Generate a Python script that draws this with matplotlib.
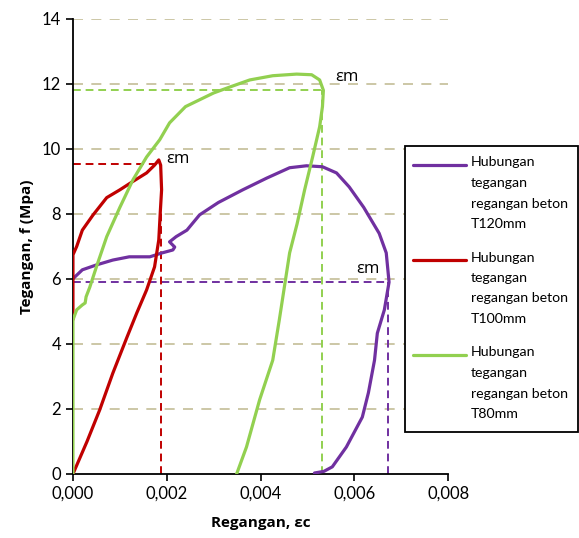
import matplotlib.pyplot as plt
from matplotlib.lines import Line2D
from matplotlib.patches import Rectangle
from matplotlib.ticker import FuncFormatter

plt.rcParams['font.family'] = ['Open Sans', 'DejaVu Sans']

# T120mm (purple)
x120 = [0, 0.00004, 0.0002, 0.0005, 0.00085, 0.0012, 0.00164, 0.0019, 0.00213, 0.00217,
        0.00206, 0.0022, 0.00243, 0.0027, 0.0031, 0.00362, 0.00413, 0.00462, 0.00498,
        0.00532, 0.00562, 0.00589, 0.0062, 0.00653, 0.00668, 0.00674, 0.00664, 0.00649,
        0.00643, 0.0063, 0.00617, 0.00583, 0.00553, 0.00535, 0.00515]
y120 = [6.0, 6.06, 6.28, 6.43, 6.58, 6.68, 6.68, 6.8, 6.89, 6.98,
        7.14, 7.3, 7.5, 7.97, 8.35, 8.74, 9.1, 9.42, 9.48,
        9.45, 9.26, 8.83, 8.2, 7.4, 6.8, 5.9, 5.05, 4.33,
        3.5, 2.5, 1.75, 0.83, 0.22, 0.08, 0.03]

# T100mm (red)
x100 = [0, 0, 0.00008, 0.0002, 0.00043, 0.00072, 0.001, 0.00128, 0.00157, 0.00174,
        0.00183, 0.00187, 0.00189, 0.00186, 0.00183, 0.00174, 0.00157, 0.00136, 0.00115,
        0.00085, 0.00057, 0.0003, 0]
y100 = [4.75, 6.74, 7.0, 7.5, 7.97, 8.5, 8.74, 9.0, 9.26, 9.5,
        9.66, 9.5, 8.74, 8.0, 7.2, 6.37, 5.66, 4.95, 4.2,
        3.1, 1.97, 1.0, 0]

# T80mm (green)
x80 = [0, 0, 0.00008, 0.0002, 0.00026, 0.00028, 0.00036, 0.0005, 0.00072, 0.001,
       0.00128, 0.00157, 0.00185, 0.00206, 0.0024, 0.003, 0.00334, 0.00377, 0.00426,
       0.00477, 0.00509, 0.00526, 0.00534, 0.00532, 0.00526, 0.00511, 0.00494, 0.00478,
       0.00462, 0.0044, 0.00426, 0.00398, 0.0037, 0.00349]
y80 = [0, 4.74, 5.05, 5.2, 5.26, 5.45, 5.75, 6.37, 7.3, 8.2,
       9.05, 9.75, 10.28, 10.8, 11.3, 11.72, 11.9, 12.12, 12.25,
       12.3, 12.28, 12.12, 11.8, 11.3, 10.68, 9.75, 8.74, 7.7,
       6.8, 4.74, 3.5, 2.28, 0.83, 0]

# strain at max (εm) markers: (strain, stress)
em_strain = [0.00672, 0.00188, 0.00532]
em_stress = [5.9, 9.55, 11.8]

labels = ["Hubungan\ntegangan\nregangan beton\nT120mm",
          "Hubungan\ntegangan\nregangan beton\nT100mm",
          "Hubungan\ntegangan\nregangan beton\nT80mm"]
colors = ["#7030A0", "#C00000", "#92D050"]

W, H = 579, 538
fig = plt.figure(figsize=(W / 100, H / 100), dpi=100)
ax = fig.add_axes([0.126, 0.119, 0.648, 0.846])

for yv in range(2, 15, 2):
    ax.plot([0, 0.008], [yv, yv], color="#C4BD97", lw=1.2, dashes=(6, 5), zorder=1)

for xs, ys, c, lab in zip([x120, x100, x80], [y120, y100, y80], colors, labels):
    ax.plot(xs, ys, color=c, lw=2.3, label=lab, solid_joinstyle='round',
            solid_capstyle='round', zorder=3)

for sx, sy, c in zip(em_strain, em_stress, colors):
    ax.plot([0, sx], [sy, sy], color=c, lw=1.4, dashes=(4, 2.5), zorder=2)
    ax.plot([sx, sx], [0, sy], color=c, lw=1.4, dashes=(4, 2.5), zorder=2)

ax.text(0.00198, 9.68, "εm", fontsize=12, va="center")
ax.text(0.0056, 12.2, "εm", fontsize=12, va="center")
ax.text(0.00603, 6.3, "εm", fontsize=12, va="center")

ax.set_xlim(0, 0.008)
ax.set_ylim(0, 14)
ax.set_xticks([0, 0.002, 0.004, 0.006, 0.008])
ax.set_yticks(range(0, 15, 2))
ax.xaxis.set_major_formatter(FuncFormatter(lambda v, p: f"{v:.3f}".replace(".", ",")))
ax.tick_params(direction="out", length=5, width=1.2, labelsize=12, color="black")
for t in ax.get_xticklabels() + ax.get_yticklabels():
    t.set_fontfamily(["Lato", "DejaVu Sans"])
for s in ["top", "right"]:
    ax.spines[s].set_visible(False)
for s in ["left", "bottom"]:
    ax.spines[s].set_linewidth(1.3)
ax.set_xlabel("Regangan, εc", fontsize=11, fontweight="bold", labelpad=10)
ax.set_ylabel("Tegangan, f (Mpa)", fontsize=11, fontweight="bold", labelpad=6)

# legend: frame, handle next to the first text line of each entry
fig.patches.append(Rectangle((405 / W, 1 - 432 / H), 173 / W, 286 / H, transform=fig.transFigure,
                             facecolor="white", edgecolor="black", lw=1.3, zorder=4))
for i, (c, lab) in enumerate(zip(colors, labels)):
    yc = 165 + 95 * i
    fig.add_artist(Line2D([413 / W, 466 / W], [1 - yc / H, 1 - yc / H], color=c, lw=2.3,
                          solid_capstyle='round', zorder=5))
    fig.text(471 / W, 1 - (yc - 8.5) / H, lab, va="top", ha="left", fontsize=10.2,
             family=["Lato", "DejaVu Sans"], linespacing=1.85, zorder=5)

fig.savefig("out.png", dpi=100)
plt.close(fig)
